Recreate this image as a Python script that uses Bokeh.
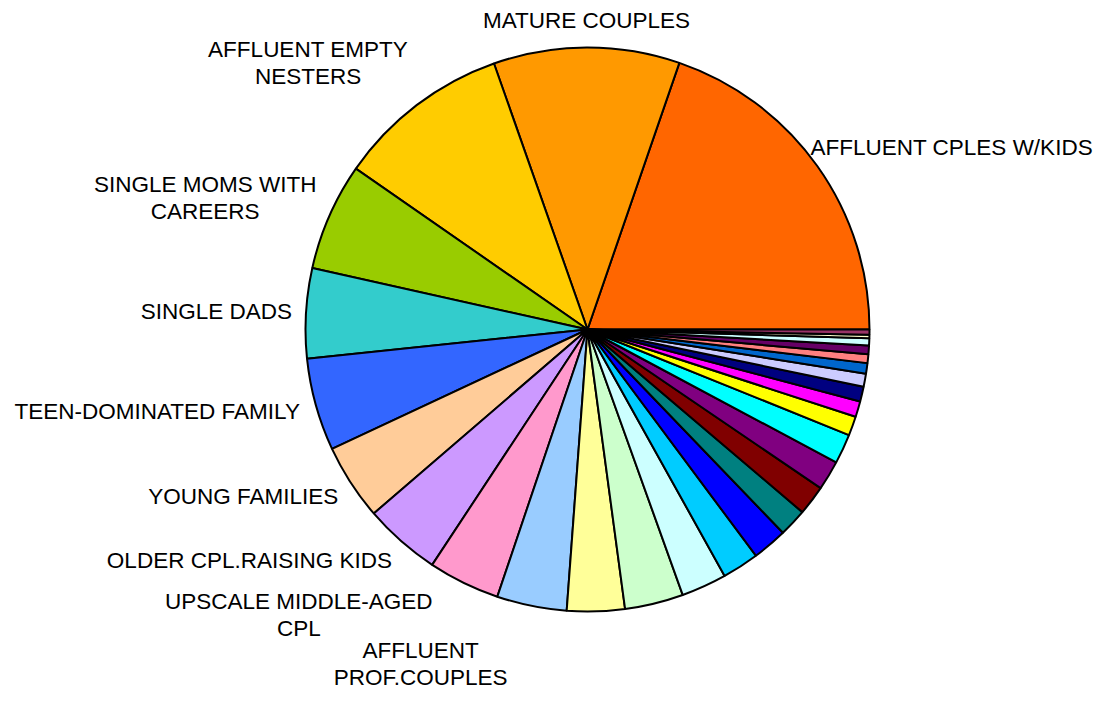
import numpy as np
import pandas as pd
from bokeh.plotting import figure
from bokeh.models import ColumnDataSource, Range1d
from bokeh.core.properties import value
from bokeh.embed import file_html
from bokeh.resources import INLINE

# ---------------- data (counter-clockwise from 3 o'clock) ----------------
segments = [
    "AFFLUENT CPLES W/KIDS", "MATURE COUPLES", "AFFLUENT EMPTY NESTERS",
    "SINGLE MOMS WITH CAREERS", "SINGLE DADS", "TEEN-DOMINATED FAMILY",
    "YOUNG FAMILIES", "OLDER CPL.RAISING KIDS", "UPSCALE MIDDLE-AGED CPL",
    "AFFLUENT PROF.COUPLES",
    "", "", "", "", "", "", "", "", "", "", "", "", "", "", "", "", "", "", "",
]
shares = [
    19.7, 10.65, 9.95, 6.15, 5.15, 5.3, 4.35, 4.4, 4.1, 4.0,
    3.3, 3.35, 2.6, 2.1, 2.0, 1.6, 1.7, 1.7, 1.7, 1.1,
    0.9, 0.85, 0.75, 0.6, 0.5, 0.5, 0.4, 0.2, 0.3,
]
colors = [
    "#FF6600", "#FF9900", "#FFCC00", "#99CC00", "#33CCCC", "#3366FF",
    "#FFCC99", "#CC99FF", "#FF99CC", "#99CCFF", "#FFFF99", "#CCFFCC",
    "#CCFFFF", "#00CCFF", "#0000FF", "#008080", "#800000", "#800080",
    "#00FFFF", "#FFFF00", "#FF00FF", "#000080", "#CCCCFF", "#0066CC",
    "#FF8080", "#660066", "#CCFFFF", "#FFFFCC", "#993366",
]

# ---------------- layout ----------------
W, H = 1093, 689
CX, CY, R = 587, H - 329, 282
FS = 22.5
LH = 27
FONT = "Liberation Sans"

ARIAL = {
    "A": .667, "B": .667, "C": .722, "D": .722, "E": .667, "F": .611, "G": .778,
    "H": .722, "I": .278, "J": .5, "K": .667, "L": .556, "M": .833, "N": .722,
    "O": .778, "P": .667, "Q": .778, "R": .722, "S": .667, "T": .611, "U": .722,
    "V": .667, "W": .944, "X": .667, "Y": .667, "Z": .611, " ": .278, "-": .333,
    ".": .278, "/": .278,
}


def text_w(s):
    return sum(ARIAL.get(ch, 0.667) for ch in s) * FS


def wrap(s, maxw=13.0 * FS):
    lines, cur = [], ""
    for w in s.split(" "):
        t = (cur + " " + w) if cur else w
        if cur and text_w(t) > maxw:
            lines.append(cur)
            cur = w
        else:
            cur = t
    if cur:
        lines.append(cur)
    return lines


# label nudges (screen px, y down) for labels moved to avoid overlaps / edges
nudge = {
    "AFFLUENT CPLES W/KIDS": (-18, -4),
    "MATURE COUPLES": (0, -2),
    "AFFLUENT EMPTY NESTERS": (0, -11),
    "SINGLE MOMS WITH CAREERS": (0, -3),
    "UPSCALE MIDDLE-AGED CPL": (-25, -3),
    "AFFLUENT PROF.COUPLES": (-20, 20),
}

df = pd.DataFrame(dict(segment=segments, share=shares, color=colors))
df["angle"] = df["share"] / df["share"].sum() * 2 * np.pi
df["end"] = df["angle"].cumsum()
df["start"] = df["end"] - df["angle"]
src = ColumnDataSource(df)

p = figure(width=W, height=H, x_range=Range1d(0, W), y_range=Range1d(0, H),
           output_backend="svg", toolbar_location=None, min_border=0,
           x_axis_location=None, y_axis_location=None)
p.grid.visible = False
p.outline_line_color = None
p.background_fill_color = "white"
p.border_fill_color = "white"

p.wedge(x=CX, y=CY, radius=R, start_angle="start", end_angle="end",
        direction="anticlock", fill_color="color", line_color="black",
        line_width=2, source=src)

lx, ly, lt = [], [], []
for _, row in df.iterrows():
    name = row["segment"]
    if not name:
        continue
    mid = (row["start"] + row["end"]) / 2
    c, s = np.cos(mid), np.sin(mid)
    px, py = CX + (R + 14) * c, CY + (R + 14) * s
    lines = wrap(name)
    w = max(text_w(l) for l in lines)
    h = FS + LH * (len(lines) - 1)
    bx = px if abs(c) < 0.15 else px + np.sign(c) * w / 2
    by = py + s * h / 2
    dx, dy = nudge.get(name, (0, 0))
    bx += dx
    by -= dy
    n = len(lines)
    for i, l in enumerate(lines):
        lx.append(bx)
        ly.append(by + LH * ((n - 1) / 2 - i))
        lt.append(l)

p.text(x=lx, y=ly, text=lt, text_align="center", text_baseline="middle",
       text_font=value(FONT), text_font_size=f"{FS}px", text_color="black")

open("out.html", "w").write(file_html(p, INLINE))
